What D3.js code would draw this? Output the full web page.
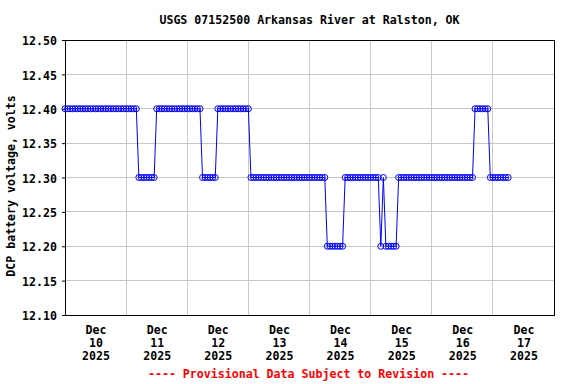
<!DOCTYPE html>
<html>
<head>
<meta charset="utf-8">
<script src="https://cdn.jsdelivr.net/npm/d3@7"></script>
<style>
  body { margin: 0; background: #fff; }
  text { font-family: "DejaVu Sans Mono", monospace; font-weight: bold; font-size: 11.6px; }
</style>
</head>
<body>
<svg id="chart" width="576" height="384"></svg>
<script>
// Hourly DCP battery voltage readings, one array per day (starting at 00:00 UTC)
let dayStarts = ['2025-12-10', '2025-12-11', '2025-12-12', '2025-12-13',
                 '2025-12-14', '2025-12-15', '2025-12-16', '2025-12-17'];
let dec10 = [12.40, 12.40, 12.40, 12.40, 12.40, 12.40, 12.40, 12.40, 12.40, 12.40, 12.40, 12.40,
             12.40, 12.40, 12.40, 12.40, 12.40, 12.40, 12.40, 12.40, 12.40, 12.40, 12.40, 12.40];
let dec11 = [12.40, 12.40, 12.40, 12.40, 12.40, 12.30, 12.30, 12.30, 12.30, 12.30, 12.30, 12.30,
             12.40, 12.40, 12.40, 12.40, 12.40, 12.40, 12.40, 12.40, 12.40, 12.40, 12.40, 12.40];
let dec12 = [12.40, 12.40, 12.40, 12.40, 12.40, 12.40, 12.30, 12.30, 12.30, 12.30, 12.30, 12.30,
             12.40, 12.40, 12.40, 12.40, 12.40, 12.40, 12.40, 12.40, 12.40, 12.40, 12.40, 12.40];
let dec13 = [12.40, 12.30, 12.30, 12.30, 12.30, 12.30, 12.30, 12.30, 12.30, 12.30, 12.30, 12.30,
             12.30, 12.30, 12.30, 12.30, 12.30, 12.30, 12.30, 12.30, 12.30, 12.30, 12.30, 12.30];
let dec14 = [12.30, 12.30, 12.30, 12.30, 12.30, 12.30, 12.30, 12.20, 12.20, 12.20, 12.20, 12.20,
             12.20, 12.20, 12.30, 12.30, 12.30, 12.30, 12.30, 12.30, 12.30, 12.30, 12.30, 12.30];
let dec15 = [12.30, 12.30, 12.30, 12.30, 12.20, 12.30, 12.20, 12.20, 12.20, 12.20, 12.20, 12.30,
             12.30, 12.30, 12.30, 12.30, 12.30, 12.30, 12.30, 12.30, 12.30, 12.30, 12.30, 12.30];
let dec16 = [12.30, 12.30, 12.30, 12.30, 12.30, 12.30, 12.30, 12.30, 12.30, 12.30, 12.30, 12.30,
             12.30, 12.30, 12.30, 12.30, 12.30, 12.40, 12.40, 12.40, 12.40, 12.40, 12.40, 12.30];
let dec17 = [12.30, 12.30, 12.30, 12.30, 12.30, 12.30, 12.30];

let yTicks = [12.10, 12.15, 12.20, 12.25, 12.30, 12.35, 12.40, 12.45, 12.50];
let dayLabels = ['10', '11', '12', '13', '14', '15', '16', '17'];

let titleText = 'USGS 07152500 Arkansas River at Ralston, OK';
let yTitle = 'DCP battery voltage, volts';
let footText = '---- Provisional Data Subject to Revision ----';

// Turn the day arrays into {t, v} points
function buildPoints() {
    let days = [dec10, dec11, dec12, dec13, dec14, dec15, dec16, dec17];
    let pts = [];
    days.forEach(function(vals, i) {
        let start = new Date(dayStarts[i] + 'T00:00:00Z');
        vals.forEach(function(v, h) {
            pts.push({t: new Date(start.getTime() + h * 3600000), v: v});
        });
    });
    return pts;
}

function drawChart() {
    let svg = d3.select('#chart');
    let left = 65, right = 554, top = 40, bottom = 315;
    let points = buildPoints();

    let x = d3.scaleUtc()
        .domain([new Date('2025-12-10T00:00:00Z'), new Date('2025-12-18T00:00:00Z')])
        .range([left, right]);
    let y = d3.scaleLinear().domain([12.10, 12.50]).range([bottom, top]);

    // grid lines
    let grid = svg.append('g').attr('shape-rendering', 'crispEdges');
    grid.selectAll('line.h')
        .data(yTicks)
        .enter()
        .append('line')
        .attr('x1', left).attr('x2', right)
        .attr('y1', d => y(d)).attr('y2', d => y(d))
        .attr('stroke', '#c8c8c8');
    let midnights = dayStarts.slice(1).map(d => new Date(d + 'T00:00:00Z'));
    grid.selectAll('line.v')
        .data(midnights)
        .enter()
        .append('line')
        .attr('x1', d => x(d)).attr('x2', d => x(d))
        .attr('y1', top).attr('y2', bottom)
        .attr('stroke', '#c8c8c8');

    // plot frame
    svg.append('rect')
        .attr('x', left + 0.5).attr('y', top + 0.5)
        .attr('width', right - left).attr('height', bottom - top)
        .attr('fill', 'none').attr('stroke', '#000')
        .attr('shape-rendering', 'crispEdges');

    // y axis
    let yAxis = svg.append('g')
        .attr('transform', 'translate(' + left + ',0)')
        .call(d3.axisLeft(y).tickValues(yTicks).tickSize(3).tickPadding(5).tickFormat(d3.format('.2f')));
    yAxis.select('.domain').remove();
    yAxis.selectAll('text').attr('font-size', null).attr('font-family', null).attr('fill', '#000').attr('dy', '0.4em');

    // x axis, labels at noon of each day
    let noons = dayStarts.map(d => new Date(d + 'T12:00:00Z'));
    let xAxis = svg.append('g')
        .attr('transform', 'translate(0,' + bottom + ')')
        .call(d3.axisBottom(x).tickValues(noons).tickSize(0).tickFormat(''));
    xAxis.select('.domain').remove();
    xAxis.selectAll('.tick text').remove();
    xAxis.selectAll('.tick').each(function(d, i) {
        let t = d3.select(this).append('text').attr('fill', '#000').attr('text-anchor', 'middle');
        t.append('tspan').attr('x', 0).attr('y', 19).text('Dec');
        t.append('tspan').attr('x', 0).attr('y', 32).text(dayLabels[i]);
        t.append('tspan').attr('x', 0).attr('y', 44.5).text('2025');
    });

    // data line and markers
    let line = d3.line().x(d => x(d.t)).y(d => y(d.v));
    svg.append('path')
        .datum(points)
        .attr('d', line)
        .attr('fill', 'none')
        .attr('stroke', '#0000ff')
        .attr('stroke-width', 1);
    svg.append('g')
        .selectAll('circle')
        .data(points)
        .enter()
        .append('circle')
        .attr('cx', d => x(d.t))
        .attr('cy', d => y(d.v))
        .attr('r', 3)
        .attr('fill', 'none')
        .attr('stroke', '#0000ff')
        .attr('stroke-width', 1);

    // titles
    let midX = (left + right) / 2;
    svg.append('text').attr('x', midX).attr('y', 24).attr('text-anchor', 'middle').text(titleText);
    svg.append('text')
        .attr('transform', 'translate(15,' + 186 + ') rotate(-90)')
        .attr('text-anchor', 'middle')
        .text(yTitle);
    svg.append('text').attr('x', midX - 1).attr('y', 378).attr('text-anchor', 'middle')
        .attr('fill', '#ff0000').text(footText);
}

drawChart();
</script>
</body>
</html>
